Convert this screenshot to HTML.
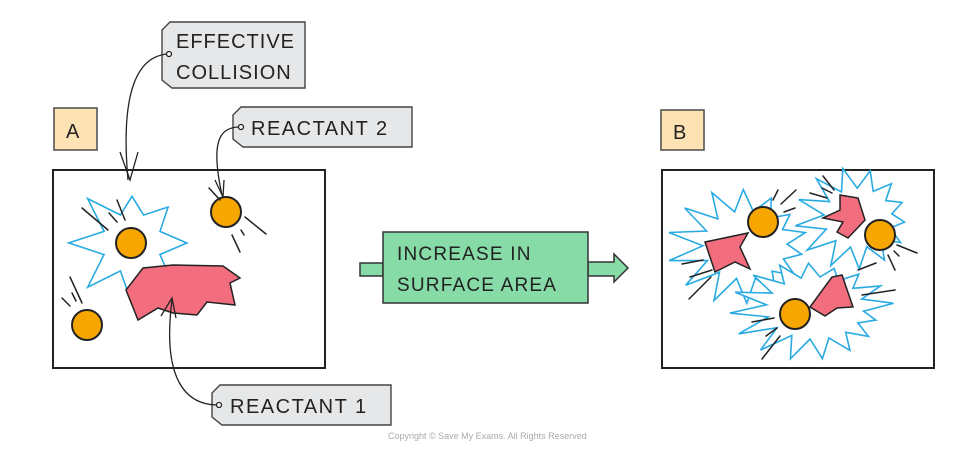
<!DOCTYPE html>
<html><head><meta charset="utf-8"><style>
html,body{margin:0;padding:0;background:#fff;}
svg{display:block;}
text{font-family:"Liberation Sans",sans-serif;fill:#222;}
</style></head><body>
<svg id="s" width="960" height="452" viewBox="0 0 960 452" xmlns="http://www.w3.org/2000/svg">
<g stroke="#222" stroke-width="1.6" fill="none" stroke-linecap="round">
<rect x="54" y="108" width="43" height="42" fill="#fde3b4" stroke="#555"/>
<text x="66" y="138" font-size="20" stroke="none">A</text>
<rect x="661" y="110" width="43" height="40" fill="#fde3b4" stroke="#555"/>
<text x="673" y="139" font-size="20" stroke="none">B</text>
<rect x="53" y="170" width="272" height="198" fill="#fff" stroke-width="2"/>
<rect x="662" y="170" width="272" height="198" fill="#fff" stroke-width="2"/>
</g>
<g id="stars" fill="#fff" stroke="#29abe2" stroke-width="1.6" stroke-linejoin="miter"></g>
<g stroke="#222" stroke-width="1.5">
<polygon points="126,290 143,268 173,265 223,266 240,278 230,283 235,305 207,302 197,315 173,313 158,308 138,320" fill="#f26d7d"/>
<polygon points="705,242 748,233 740,247 750,269 735,262 715,272" fill="#f26d7d"/>
<polygon points="840,195 858,198 865,220 848,238 837,232 843,222 823,218 840,210" fill="#f26d7d"/>
<polygon points="810,307 832,277 842,275 853,307 837,308 825,316" fill="#f26d7d"/>
<g fill="#f7a600" stroke-width="2">
<circle cx="131" cy="243" r="15"/><circle cx="226" cy="212" r="15"/><circle cx="87" cy="325" r="15"/>
<circle cx="763" cy="222" r="15"/><circle cx="880" cy="235" r="15"/><circle cx="795" cy="314" r="15"/>
</g>
<g stroke-linecap="round">
<line x1="82" y1="208" x2="108" y2="230"/><line x1="109" y1="213" x2="117" y2="222"/><line x1="117" y1="200" x2="125" y2="220"/>
<line x1="209" y1="188" x2="220" y2="200"/><line x1="245" y1="217" x2="266" y2="234"/><line x1="241" y1="230" x2="244" y2="235"/><line x1="232" y1="235" x2="240" y2="252"/>
<line x1="70" y1="277" x2="82" y2="303"/><line x1="62" y1="298" x2="70" y2="306"/><line x1="72" y1="293" x2="76" y2="301"/>
<line x1="773" y1="200" x2="778" y2="190"/><line x1="781" y1="204" x2="796" y2="190"/><line x1="784" y1="212" x2="795" y2="208"/>
<line x1="682" y1="264" x2="703" y2="260"/><line x1="690" y1="277" x2="712" y2="270"/><line x1="689" y1="299" x2="711" y2="277"/>
<line x1="823" y1="176" x2="834" y2="190"/><line x1="822" y1="188" x2="832" y2="193"/><line x1="810" y1="193" x2="827" y2="198"/>
<line x1="897" y1="245" x2="917" y2="253"/><line x1="894" y1="251" x2="899" y2="256"/><line x1="888" y1="255" x2="895" y2="270"/>
<line x1="858" y1="270" x2="876" y2="263"/><line x1="862" y1="295" x2="895" y2="290"/>
<line x1="752" y1="322" x2="774" y2="318"/><line x1="766" y1="336" x2="777" y2="328"/><line x1="762" y1="359" x2="780" y2="336"/>
</g>
</g>
<g stroke="#444" stroke-width="1.4" fill="#e6e7e8">
<path d="M170,22 H305 V88 H172 L162,80 V30 Z"/>
<path d="M241,107 H412 V147 H243 L233,139 V115 Z"/>
<path d="M220,385 H391 V425 H222 L212,417 V393 Z"/>
</g>
<text x="176" y="48" font-size="20" letter-spacing="1">EFFECTIVE</text>
<text x="176" y="79" font-size="20" letter-spacing="1">COLLISION</text>
<text x="251" y="135" font-size="20" letter-spacing="1.5">REACTANT  2</text>
<text x="230" y="413" font-size="20" letter-spacing="1.5">REACTANT  1</text>
<g stroke="#222" stroke-width="1.3" fill="none">
<path d="M168,54 C138,56 120,90 128,180"/><path d="M120,152 L130,180 L138,152"/>
<circle cx="169" cy="54" r="2.5" fill="#fff"/>
<path d="M240,127 C220,127 210,140 222,195"/><path d="M215,180 L223,197 L224,180"/>
<circle cx="241" cy="127" r="2.5" fill="#fff"/>
<path d="M218,405 C180,405 163,370 172,300"/><path d="M161,316 L172,298 L176,318"/>
<circle cx="219" cy="405" r="2.5" fill="#fff"/>
</g>
<g stroke="#333" stroke-width="1.5" fill="#86dba6">
<rect x="360" y="263" width="23" height="13"/>
<path d="M588,262 H614 V254 L628,268 L614,282 V276 H588 Z"/>
<rect x="383" y="232" width="205" height="71"/>
</g>
<text x="397" y="260" font-size="19" letter-spacing="1.2">INCREASE  IN</text>
<text x="397" y="291" font-size="19" letter-spacing="1.2">SURFACE  AREA</text>
<text x="388" y="439" font-size="9" style="fill:#aaa">Copyright © Save My Exams. All Rights Reserved</text>
</svg>
<script>
function star(cx,cy,rx,ry,n,inner,rot){
  var p=[];for(var i=0;i<2*n;i++){var a=rot+Math.PI*i/n;var f=(i%2==0)?1:inner;
  var j=(i%2==0)?(0.85+0.3*Math.abs(Math.sin(i*1.7))):1;
  p.push((cx+Math.cos(a)*rx*f*j).toFixed(1)+","+(cy+Math.sin(a)*ry*f*j).toFixed(1));}
  return '<polygon points="'+p.join(" ")+'"/>';
}
document.getElementById("stars").innerHTML=
 star(132,243,55,55,8,0.55,-1.57)+
 star(745,245,68,55,14,0.62,0.2)+
 star(858,218,55,48,13,0.62,0.1)+
 star(815,308,75,48,16,0.65,0.3);
</script>
</body></html>
